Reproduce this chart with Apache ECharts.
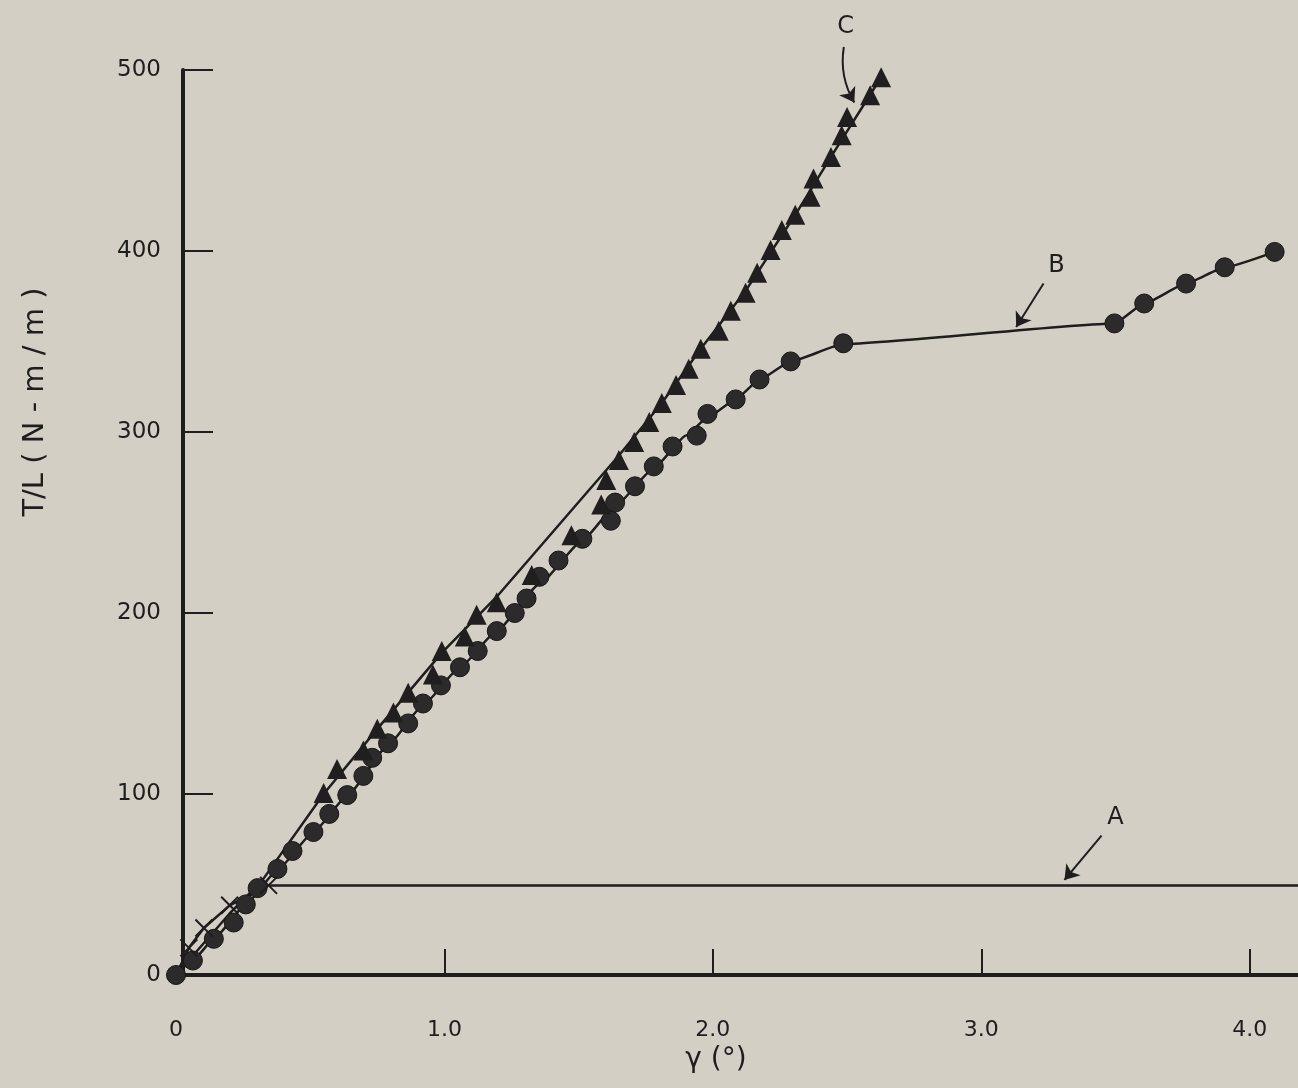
<!DOCTYPE html>
<html>
<head>
<meta charset="utf-8">
<script src="https://cdn.jsdelivr.net/npm/echarts@6/dist/echarts.min.js"></script>
<style>
html,body{margin:0;padding:0;background:#d3cfc5;}
#chart{width:1298px;height:1088px;}
</style>
</head>
<body>
<div id="chart"></div>
<script>
// ---- data ----
const xTickValues = [0, 1, 2, 3, 4];
const xTickLabels = ['0', '1.0', '2.0', '3.0', '4.0'];
const yTickValues = [0, 100, 200, 300, 400, 500];

// Curve A: elastic line to plateau
const curveA = [[0,0],[0.048,15],[0.104,26],[0.2,38.5],[0.345,49.5],[4.18,49.5]];
const crossesA = [[0.048,15],[0.104,26],[0.2,38.5],[0.345,49.5]];

// Curve B and its circle markers
const curveB = [[0,0],[0.063,8],[0.141,20],[0.26,39],[0.378,58],[0.512,79],[0.638,99],[0.79,127],
  [0.92,149],[1.058,170],[1.195,190],[1.354,216],[1.514,240],[1.636,259],[1.78,280],[1.9,298],
  [1.98,308],[2.085,318],[2.174,329],[2.29,339],[2.486,348.6],[3.496,360],[3.607,371],
  [3.763,382],[3.907,391],[4.093,399.5]];
const circlesB = [[0,0],[0.063,8],[0.141,20],[0.215,29],[0.26,39],[0.304,48],[0.378,58.6],[0.434,68.5],
  [0.512,79],[0.571,89],[0.638,99.4],[0.698,110],[0.731,120],[0.79,128],[0.865,139],[0.92,150],
  [0.987,160],[1.058,170],[1.124,179],[1.195,190],[1.262,200],[1.306,208],[1.354,220],[1.425,229],
  [1.514,241],[1.62,251],[1.636,261],[1.71,270],[1.78,281],[1.85,292],[1.94,298],[1.98,310],
  [2.085,318],[2.174,329],[2.29,339],[2.486,349],[3.496,360],[3.607,371],[3.763,382],[3.907,391],
  [4.093,399.5]];

// Curve C and its triangle markers
const curveC = [[0,0],[0.2,34],[0.32,52],[0.55,100],[0.75,136],[0.99,178],[1.195,209],[1.65,287],
  [1.81,316],[1.955,346],[2.122,378],[2.307,420],[2.44,452],[2.627,496]];
const trianglesC = [[0.55,100.6],[0.6,113.8],[0.698,124],[0.75,136],[0.81,145],[0.865,156],[0.957,166],
  [0.99,179],[1.076,187],[1.12,199],[1.195,206],[1.325,221],[1.473,243],[1.584,260],[1.603,273.5],
  [1.65,284.5],[1.707,294.5],[1.763,305.5],[1.81,316],[1.863,326],[1.91,335],[1.955,346],
  [2.022,356],[2.067,367],[2.122,377],[2.165,388],[2.215,400.5],[2.257,411.6],[2.307,420],
  [2.364,430],[2.375,440],[2.44,452],[2.48,464],[2.5,474],[2.586,486],[2.627,496]];

// Annotations (data coordinates)
const annotationLabels = [[3.5, 87, 'A'], [3.28, 392, 'B'], [2.495, 524, 'C']];
const arrowA = [[3.448, 77], [3.31, 52.5]];
const arrowB = [[3.232, 382], [3.13, 358]];
const arrowC = [[2.488, 512.7], [2.527, 482]];

// ---- chart ----
const ink = '#1f1d1d';
const font = 'DejaVu Sans';
const chart = echarts.init(document.getElementById('chart'), null, {renderer: 'canvas'});
chart.setOption({
  backgroundColor: '#d3cfc5',
  animation: false,
  grid: {left: 176, right: 0, top: 70, bottom: 113, containLabel: false},
  xAxis: {
    type: 'value', min: 0, max: 4.18, interval: 1,
    splitLine: {show: false},
    axisLine: {show: true, onZero: false, lineStyle: {color: ink, width: 4}},
    axisTick: {show: true, inside: true, length: 26, lineStyle: {color: ink, width: 2},
      customValues: [1, 2, 3, 4]},
    axisLabel: {color: ink, fontFamily: font, fontSize: 22, margin: 44,
      customValues: xTickValues,
      formatter: v => xTickLabels[xTickValues.indexOf(Math.round(v))] ?? ''},
    name: 'γ (°)', nameLocation: 'middle', nameGap: 70,
    nameTextStyle: {color: ink, fontFamily: font, fontSize: 28, padding: [0, 42, 0, 0]}
  },
  yAxis: {
    type: 'value', min: 0, max: 500, interval: 100, offset: -7,
    splitLine: {show: false},
    axisLine: {show: true, onZero: false, lineStyle: {color: ink, width: 4}},
    axisTick: {show: true, inside: true, length: 30, lineStyle: {color: ink, width: 2},
      customValues: [100, 200, 300, 400, 500]},
    axisLabel: {color: ink, fontFamily: font, fontSize: 23, margin: 22, customValues: yTickValues}
  },
  graphic: [{
    type: 'text', x: 35, y: 402, rotation: Math.PI / 2,
    style: {text: 'T/L ( N - m / m )', fontFamily: font, fontSize: 29, fill: ink,
      align: 'center', verticalAlign: 'middle'}
  }],
  series: [
    {type: 'line', data: curveA, symbol: 'none', lineStyle: {color: ink, width: 2.5}, z: 2},
    {type: 'scatter', data: crossesA, symbol: 'path://M0,0L10,10M10,0L0,10', symbolSize: 17,
      itemStyle: {color: 'none', borderColor: ink, borderWidth: 2, opacity: 1}, z: 4},
    {type: 'line', data: curveB, symbol: 'none', smooth: 0.15, smoothMonotone: 'x',
      lineStyle: {color: ink, width: 2.5}, z: 2},
    {type: 'scatter', data: circlesB, symbol: 'circle', symbolSize: 19,
      itemStyle: {color: '#2c2a2a', borderColor: '#181616', borderWidth: 1, opacity: 1}, z: 3},
    {type: 'line', data: curveC, symbol: 'none', smooth: false,
      lineStyle: {color: ink, width: 2.5}, z: 2},
    {type: 'scatter', data: trianglesC, symbol: 'triangle', symbolSize: 20,
      itemStyle: {color: '#201e1e', opacity: 1}, z: 3},
    {type: 'lines', coordinateSystem: 'cartesian2d', clip: false, symbol: ['none', 'arrow'],
      symbolSize: 14, lineStyle: {color: ink, width: 2, opacity: 1}, z: 5,
      data: [
        {coords: arrowA, lineStyle: {curveness: 0}},
        {coords: arrowB, lineStyle: {curveness: 0}},
        {coords: arrowC, lineStyle: {curveness: -0.18}}
      ]},
    {type: 'scatter', data: annotationLabels, symbolSize: 0, clip: false, silent: true,
      itemStyle: {opacity: 1},
      label: {show: true, position: 'inside', formatter: p => p.data[2], color: ink,
        fontFamily: font, fontSize: 24, opacity: 1}, z: 6}
  ]
});
</script>
</body>
</html>
